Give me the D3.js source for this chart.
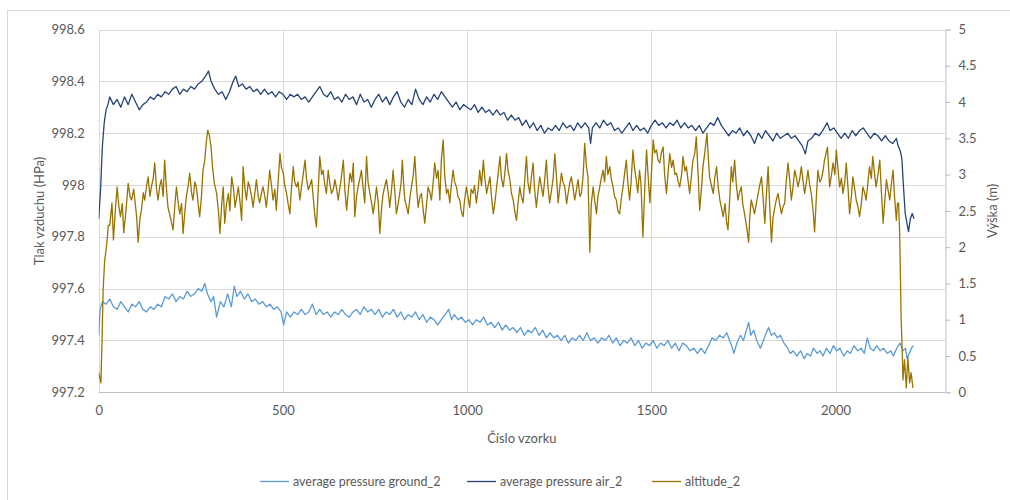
<!DOCTYPE html>
<html>
<head>
<meta charset="utf-8">
<script src="https://cdn.jsdelivr.net/npm/d3@7"></script>
<style>
  html, body { margin: 0; padding: 0; background: #fff; }
  svg text { font-family: Lato, "Open Sans", sans-serif; fill: #595959; }
</style>
</head>
<body>
<svg id="chart" width="1010" height="500"></svg>
<script>
// Axis ticks
const xTicks = [0, 500, 1000, 1500, 2000];
const pressureTicks = [997.2, 997.4, 997.6, 997.8, 998, 998.2, 998.4, 998.6];
const altitudeTicks = [0, 0.5, 1, 1.5, 2, 2.5, 3, 3.5, 4, 4.5, 5];

const seriesNames = ["average pressure ground_2", "average pressure air_2", "altitude_2"];

// [sample number, pressure in hPa]
const pressureGround = [
[0,997.42],[4,997.52],[10,997.55],[20,997.54],[30,997.56],[40,997.53],[50,997.52],[60,997.55],[70,997.53],[80,997.51],
[90,997.54],[100,997.53],[110,997.55],[120,997.52],[130,997.51],[140,997.53],[150,997.52],[160,997.54],[170,997.53],[180,997.57],
[190,997.56],[200,997.58],[210,997.55],[220,997.57],[230,997.56],[240,997.59],[250,997.57],[260,997.58],[270,997.60],[280,997.59],
[288,997.62],[295,997.58],[305,997.55],[312,997.57],[320,997.49],[330,997.55],[340,997.53],[350,997.58],[360,997.53],[368,997.61],
[375,997.57],[385,997.59],[395,997.56],[405,997.58],[415,997.55],[425,997.56],[435,997.54],[445,997.55],[455,997.53],[465,997.54],
[475,997.52],[485,997.53],[495,997.51],[502,997.46],[510,997.51],[520,997.49],[530,997.51],[540,997.50],[550,997.52],[560,997.50],
[570,997.51],[580,997.54],[590,997.50],[600,997.52],[610,997.50],[620,997.51],[630,997.49],[640,997.51],[650,997.50],[660,997.52],
[670,997.50],[680,997.49],[690,997.51],[700,997.52],[710,997.50],[720,997.53],[730,997.51],[740,997.52],[750,997.50],[760,997.52],
[770,997.49],[780,997.51],[790,997.50],[800,997.52],[810,997.49],[820,997.51],[830,997.48],[840,997.50],[850,997.49],[860,997.51],
[870,997.48],[880,997.50],[890,997.47],[900,997.49],[910,997.48],[920,997.46],[930,997.48],[940,997.50],[950,997.52],[958,997.48],
[965,997.50],[975,997.48],[985,997.49],[995,997.47],[1005,997.48],[1015,997.46],[1025,997.48],[1035,997.47],[1045,997.49],[1055,997.46],
[1065,997.47],[1075,997.45],[1085,997.47],[1095,997.44],[1105,997.46],[1115,997.44],[1125,997.45],[1135,997.43],[1145,997.45],[1155,997.42],
[1165,997.44],[1175,997.43],[1185,997.45],[1195,997.42],[1205,997.44],[1215,997.41],[1225,997.43],[1235,997.41],[1245,997.42],[1255,997.40],
[1265,997.42],[1275,997.39],[1285,997.41],[1295,997.40],[1305,997.42],[1315,997.40],[1325,997.43],[1335,997.40],[1345,997.41],[1355,997.39],
[1365,997.41],[1375,997.40],[1385,997.42],[1395,997.39],[1405,997.41],[1415,997.38],[1425,997.40],[1435,997.39],[1445,997.41],[1455,997.38],
[1465,997.40],[1475,997.37],[1485,997.39],[1495,997.38],[1505,997.40],[1515,997.37],[1525,997.39],[1535,997.38],[1545,997.40],[1555,997.37],
[1565,997.39],[1575,997.36],[1585,997.39],[1595,997.38],[1605,997.36],[1615,997.37],[1625,997.35],[1635,997.37],[1645,997.35],[1655,997.38],
[1665,997.41],[1675,997.40],[1685,997.42],[1695,997.41],[1705,997.43],[1712,997.40],[1718,997.38],[1724,997.35],[1732,997.39],[1742,997.42],
[1750,997.40],[1758,997.44],[1764,997.47],[1770,997.42],[1778,997.44],[1786,997.40],[1796,997.37],[1804,997.40],[1812,997.43],[1818,997.45],
[1826,997.42],[1834,997.43],[1842,997.41],[1850,997.42],[1860,997.39],[1870,997.37],[1877,997.35],[1885,997.36],[1895,997.34],[1905,997.36],
[1915,997.33],[1923,997.35],[1932,997.34],[1940,997.37],[1950,997.35],[1958,997.36],[1966,997.34],[1975,997.37],[1985,997.35],[1994,997.38],
[2003,997.36],[2012,997.37],[2022,997.34],[2032,997.36],[2040,997.35],[2050,997.38],[2060,997.36],[2070,997.37],[2078,997.35],[2086,997.41],
[2094,997.37],[2103,997.36],[2112,997.38],[2121,997.36],[2130,997.37],[2140,997.35],[2150,997.36],[2157,997.34],[2166,997.37],[2175,997.39],
[2183,997.36],[2190,997.37],[2194,997.33],[2200,997.35],[2206,997.37],[2211,997.38]
];

// [sample number, pressure in hPa]
const pressureAir = [
[0,997.87],[5,997.98],[10,998.15],[15,998.24],[20,998.29],[25,998.31],[30,998.34],[40,998.31],[50,998.33],[60,998.30],
[70,998.34],[80,998.31],[90,998.35],[100,998.32],[110,998.29],[120,998.31],[130,998.32],[140,998.34],[150,998.33],[160,998.35],
[170,998.34],[180,998.36],[190,998.35],[200,998.37],[210,998.38],[220,998.35],[230,998.37],[240,998.36],[250,998.38],[260,998.37],
[270,998.39],[280,998.40],[290,998.42],[298,998.44],[305,998.40],[315,998.37],[325,998.35],[335,998.36],[345,998.33],[355,998.36],
[365,998.40],[372,998.42],[380,998.38],[390,998.39],[400,998.37],[410,998.38],[420,998.36],[430,998.37],[440,998.35],[450,998.37],
[460,998.35],[470,998.36],[480,998.34],[490,998.36],[500,998.35],[510,998.33],[520,998.35],[530,998.34],[540,998.35],[550,998.33],
[560,998.34],[570,998.32],[580,998.34],[590,998.36],[600,998.38],[610,998.35],[620,998.34],[630,998.36],[640,998.33],[650,998.34],
[660,998.32],[670,998.35],[680,998.33],[690,998.34],[700,998.31],[710,998.35],[720,998.32],[730,998.33],[740,998.30],[750,998.33],
[760,998.35],[770,998.32],[780,998.34],[790,998.31],[800,998.34],[810,998.36],[820,998.32],[830,998.30],[840,998.33],[850,998.31],
[860,998.37],[870,998.33],[880,998.31],[890,998.34],[900,998.32],[910,998.35],[920,998.33],[930,998.36],[940,998.34],[950,998.32],
[960,998.30],[970,998.32],[980,998.29],[990,998.31],[1000,998.30],[1010,998.29],[1020,998.31],[1030,998.28],[1040,998.30],[1050,998.28],
[1060,998.29],[1070,998.27],[1080,998.29],[1090,998.27],[1100,998.28],[1110,998.25],[1120,998.27],[1130,998.25],[1140,998.26],[1150,998.23],
[1160,998.25],[1170,998.22],[1180,998.24],[1190,998.21],[1200,998.23],[1210,998.20],[1220,998.22],[1230,998.21],[1240,998.23],[1250,998.21],
[1260,998.24],[1270,998.22],[1280,998.23],[1290,998.21],[1300,998.24],[1310,998.22],[1320,998.24],[1330,998.22],[1335,998.16],[1340,998.22],
[1350,998.24],[1360,998.22],[1370,998.25],[1380,998.23],[1390,998.24],[1400,998.21],[1410,998.22],[1420,998.20],[1430,998.22],[1440,998.24],
[1450,998.21],[1460,998.23],[1470,998.21],[1480,998.22],[1490,998.20],[1500,998.23],[1510,998.25],[1520,998.23],[1530,998.24],[1540,998.22],
[1550,998.24],[1560,998.23],[1570,998.25],[1580,998.22],[1590,998.24],[1600,998.22],[1610,998.23],[1620,998.21],[1630,998.23],[1640,998.20],
[1650,998.22],[1660,998.24],[1670,998.23],[1680,998.26],[1690,998.23],[1700,998.21],[1710,998.19],[1720,998.21],[1730,998.20],[1740,998.22],
[1750,998.19],[1760,998.21],[1770,998.19],[1780,998.16],[1790,998.20],[1800,998.18],[1810,998.21],[1820,998.19],[1830,998.17],[1840,998.20],
[1850,998.18],[1860,998.19],[1870,998.20],[1880,998.18],[1890,998.19],[1900,998.17],[1910,998.15],[1918,998.12],[1925,998.17],[1935,998.18],
[1945,998.20],[1955,998.19],[1965,998.21],[1977,998.24],[1985,998.21],[1995,998.22],[2005,998.20],[2015,998.18],[2025,998.20],[2035,998.18],
[2045,998.21],[2055,998.19],[2065,998.21],[2075,998.22],[2085,998.20],[2095,998.18],[2105,998.20],[2115,998.19],[2125,998.17],[2135,998.19],
[2145,998.17],[2155,998.16],[2165,998.18],[2170,998.15],[2176,998.13],[2180,998.10],[2184,998.00],[2189,997.89],[2194,997.85],[2198,997.82],
[2203,997.87],[2208,997.89],[2213,997.87]
];

// [sample number, altitude in m]
const altitude = [
[0,0.27],[3,0.20],[6,0.13],[9,0.70],[12,1.41],[16,1.80],[22,2.05],[26,2.30],[30,2.30],[36,2.61],[40,2.10],[45,2.50],[50,2.83],[55,2.55],
[59,2.42],[64,2.60],[68,2.20],[74,2.50],[80,2.88],[85,2.70],[89,2.65],[95,2.80],[103,2.42],[107,2.07],[112,2.40],[116,2.51],[121,2.75],
[125,2.65],[130,2.85],[134,2.97],[139,2.70],[143,2.83],[148,2.95],[152,3.16],[157,2.80],[161,2.65],[166,2.85],[170,2.93],[175,2.70],
[179,3.20],[184,2.80],[188,2.55],[195,2.40],[202,2.24],[207,2.60],[211,2.83],[216,2.60],[220,2.46],[225,2.60],[229,2.19],[234,2.50],
[238,2.70],[243,2.85],[247,3.02],[252,2.75],[256,2.65],[261,2.90],[265,2.83],[270,2.60],[274,2.42],[279,2.70],[283,3.06],[288,3.20],
[292,3.45],[296,3.61],[300,3.55],[305,3.38],[309,3.10],[314,2.88],[320,2.74],[325,2.50],[329,2.19],[334,2.60],[338,2.83],[342,2.33],
[347,2.60],[352,2.74],[356,2.50],[361,2.97],[366,2.80],[370,2.55],[375,2.70],[379,2.83],[384,2.60],[388,2.37],[392,3.11],[397,2.80],
[401,2.65],[406,2.90],[410,2.83],[415,2.70],[419,2.55],[424,2.75],[428,2.93],[433,2.70],[437,2.61],[442,2.75],[446,2.83],[451,2.70],
[455,2.55],[460,2.80],[464,3.06],[469,2.85],[473,2.65],[478,2.80],[482,2.51],[487,2.90],[492,3.29],[496,3.10],[501,3.02],[505,2.85],
[510,2.74],[514,2.60],[519,2.46],[523,2.80],[528,3.11],[532,2.90],[537,2.83],[541,2.90],[546,2.65],[551,2.85],[555,3.00],[560,3.20],
[564,2.95],[569,2.79],[573,2.85],[578,2.93],[582,2.70],[587,2.42],[591,2.28],[596,2.80],[600,3.25],[605,3.00],[609,3.06],[614,2.85],
[618,2.74],[623,3.06],[628,2.85],[632,2.74],[637,2.80],[641,2.93],[646,2.80],[650,2.65],[657,2.90],[664,3.20],[668,2.80],[673,2.51],
[677,2.75],[682,3.02],[687,2.90],[691,3.16],[695,2.42],[700,2.70],[704,2.83],[709,2.95],[713,3.06],[718,2.80],[722,2.61],[727,3.25],
[731,2.90],[736,2.74],[741,2.60],[745,2.46],[750,2.65],[754,2.83],[759,2.60],[763,2.19],[768,2.55],[772,2.74],[777,2.85],[781,2.93],
[786,2.75],[790,2.55],[795,2.80],[799,3.06],[804,2.75],[808,2.46],[813,2.60],[817,2.74],[821,2.90],[824,3.20],[828,2.85],[831,2.65],
[836,2.55],[840,2.46],[845,2.70],[849,2.83],[854,3.00],[858,3.25],[863,2.80],[867,2.55],[872,2.70],[876,2.74],[881,2.50],[885,2.33],
[890,2.60],[894,2.83],[899,2.75],[903,2.65],[908,2.90],[912,3.16],[917,2.95],[921,3.06],[926,2.65],[930,3.20],[935,3.48],[939,3.00],
[944,2.74],[948,2.80],[953,2.61],[957,2.85],[962,3.06],[966,2.90],[971,2.83],[975,2.70],[980,2.65],[984,2.50],[989,2.42],[993,2.65],
[998,2.83],[1002,2.70],[1007,2.55],[1011,2.80],[1016,2.74],[1020,2.85],[1025,2.61],[1030,2.80],[1034,3.06],[1039,2.85],[1044,3.20],
[1048,2.95],[1053,2.74],[1057,2.85],[1062,2.97],[1066,2.70],[1071,2.46],[1075,2.60],[1080,2.83],[1084,3.00],[1089,3.25],[1093,2.95],
[1098,2.83],[1102,3.00],[1107,3.29],[1111,3.05],[1116,2.93],[1120,2.75],[1125,2.65],[1129,2.50],[1134,2.37],[1138,2.60],[1143,2.83],
[1147,2.70],[1152,2.61],[1156,2.90],[1161,3.25],[1165,2.90],[1170,2.74],[1174,2.95],[1179,3.16],[1183,2.80],[1188,2.55],[1192,2.75],
[1197,2.97],[1201,2.85],[1206,2.70],[1210,2.90],[1215,3.20],[1219,2.85],[1224,2.61],[1228,2.75],[1233,2.93],[1238,3.29],[1242,3.00],
[1247,2.61],[1251,2.80],[1256,3.02],[1260,2.90],[1265,2.83],[1270,2.60],[1274,2.74],[1279,2.90],[1283,2.97],[1288,2.80],[1292,2.65],
[1297,2.80],[1301,2.93],[1306,2.70],[1310,2.74],[1315,3.00],[1319,3.43],[1324,3.10],[1328,2.97],[1333,1.93],[1337,2.60],[1342,2.83],
[1346,2.65],[1351,2.46],[1355,2.70],[1360,2.83],[1364,2.95],[1369,3.06],[1373,2.90],[1378,3.25],[1382,3.00],[1387,3.11],[1391,2.95],
[1396,2.83],[1400,2.70],[1405,2.65],[1409,2.50],[1414,2.46],[1418,2.65],[1423,2.83],[1427,3.00],[1432,3.20],[1436,2.90],[1441,2.65],
[1445,2.90],[1450,3.34],[1454,3.10],[1459,2.93],[1463,2.75],[1468,3.06],[1472,2.85],[1477,2.14],[1482,2.80],[1487,3.34],[1491,3.00],
[1496,2.61],[1500,3.00],[1505,3.48],[1509,3.30],[1514,3.34],[1518,3.20],[1523,3.16],[1527,3.30],[1532,3.38],[1536,3.00],[1541,2.74],
[1545,3.00],[1550,3.29],[1555,3.10],[1559,3.20],[1564,3.00],[1568,3.02],[1573,2.90],[1577,2.83],[1582,3.00],[1586,3.25],[1591,3.05],
[1595,3.11],[1600,2.90],[1604,2.74],[1609,3.00],[1613,3.20],[1618,3.30],[1622,3.52],[1627,3.00],[1631,2.51],[1636,2.80],[1640,3.11],
[1645,3.30],[1651,3.57],[1655,3.20],[1658,2.97],[1663,2.85],[1668,2.74],[1672,2.95],[1677,3.11],[1681,2.85],[1686,2.65],[1690,2.55],
[1695,2.42],[1700,2.60],[1704,2.35],[1708,2.24],[1712,2.60],[1717,3.11],[1721,2.90],[1726,3.20],[1730,2.90],[1735,2.65],[1739,2.75],
[1744,2.83],[1748,2.60],[1753,2.46],[1758,2.30],[1764,2.07],[1767,2.40],[1771,2.65],[1776,2.55],[1780,2.46],[1785,2.60],[1790,2.74],
[1794,2.85],[1799,2.97],[1803,2.70],[1808,2.33],[1812,2.70],[1817,3.11],[1821,2.60],[1826,2.07],[1830,2.40],[1835,2.55],[1839,2.65],
[1844,2.74],[1848,2.60],[1853,2.46],[1857,2.55],[1862,2.61],[1866,2.90],[1871,3.16],[1876,2.90],[1880,2.65],[1885,2.85],[1889,3.06],
[1894,2.95],[1898,2.83],[1903,2.95],[1907,3.11],[1912,2.90],[1916,2.74],[1921,2.90],[1925,3.06],[1930,2.85],[1934,2.74],[1939,2.50],
[1943,2.21],[1948,2.70],[1952,3.06],[1957,2.90],[1961,2.93],[1966,3.05],[1970,3.20],[1978,3.38],[1984,2.83],[1989,3.00],[1993,3.16],
[1998,3.00],[2002,3.34],[2007,3.05],[2011,2.83],[2016,2.95],[2020,2.74],[2025,2.90],[2029,3.16],[2034,2.80],[2038,2.46],[2043,2.70],
[2047,2.97],[2052,2.80],[2056,2.65],[2061,2.55],[2065,2.42],[2070,2.60],[2074,2.83],[2079,2.75],[2083,2.65],[2088,2.90],[2092,3.11],
[2097,2.95],[2101,3.25],[2106,3.00],[2110,2.83],[2115,3.00],[2120,3.20],[2124,2.80],[2129,2.33],[2133,2.60],[2138,2.93],[2142,2.80],
[2147,2.65],[2151,2.85],[2156,3.06],[2160,2.70],[2165,2.37],[2168,2.60],[2171,2.61],[2174,2.19],[2178,1.00],[2180,0.72],[2183,0.17],
[2187,0.45],[2192,0.06],[2196,0.48],[2201,0.13],[2205,0.27],[2210,0.06]
];

const colors = { ground: "#5B9BD5", air: "#264478", altitude: "#997300" };

const svg = d3.select("#chart");
const plot = { left: 98.7, right: 945, top: 29.5, bottom: 392.3 };

const x = d3.scaleLinear().domain([0, 2297]).range([plot.left, plot.right]);
const yP = d3.scaleLinear().domain([997.2, 998.6]).range([plot.bottom, plot.top]);
const yA = d3.scaleLinear().domain([0, 5]).range([plot.bottom, plot.top]);

// chart area frame
svg.append("rect")
  .attr("x", 7.5).attr("y", 10.5).attr("width", 1020).attr("height", 520)
  .attr("fill", "#fff").attr("stroke", "#d9d9d9").attr("stroke-width", 1);

// horizontal gridlines at pressure ticks
svg.append("g")
  .selectAll("line").data(pressureTicks).join("line")
  .attr("x1", plot.left).attr("x2", plot.right)
  .attr("y1", d => Math.round(yP(d)) + 0.5).attr("y2", d => Math.round(yP(d)) + 0.5)
  .attr("stroke", "#d9d9d9").attr("stroke-width", 1);

// vertical gridlines at sample ticks
svg.append("g")
  .selectAll("line").data(xTicks).join("line")
  .attr("x1", d => Math.round(x(d)) + 0.5).attr("x2", d => Math.round(x(d)) + 0.5)
  .attr("y1", plot.top).attr("y2", plot.bottom)
  .attr("stroke", "#d9d9d9").attr("stroke-width", 1);

// bottom axis line
svg.append("line")
  .attr("x1", plot.left).attr("x2", plot.right)
  .attr("y1", Math.round(plot.bottom) + 0.5).attr("y2", Math.round(plot.bottom) + 0.5)
  .attr("stroke", "#bfbfbf");

// right axis (altitude)
const rightAxis = svg.append("g")
  .attr("transform", `translate(${Math.round(plot.right) + 0.5},0)`)
  .call(d3.axisRight(yA).tickValues(altitudeTicks).tickSize(5).tickPadding(8).tickFormat(d3.format("")));
rightAxis.select(".domain").attr("stroke", "#bfbfbf");
rightAxis.selectAll(".tick line").attr("stroke", "#bfbfbf");
rightAxis.selectAll(".tick text").attr("font-size", 13).attr("fill", "#595959")
  .style("font-family", "Lato, 'Open Sans', sans-serif");

// left axis labels (pressure)
const leftAxis = svg.append("g")
  .attr("transform", `translate(${plot.left},0)`)
  .call(d3.axisLeft(yP).tickValues(pressureTicks).tickSize(0).tickPadding(14).tickFormat(d3.format("")));
leftAxis.select(".domain").remove();
leftAxis.selectAll(".tick text").attr("font-size", 13).attr("fill", "#595959")
  .style("font-family", "Lato, 'Open Sans', sans-serif");

// bottom axis labels (sample number)
const bottomAxis = svg.append("g")
  .attr("transform", `translate(0,${plot.bottom})`)
  .call(d3.axisBottom(x).tickValues(xTicks).tickSize(0).tickPadding(13).tickFormat(d3.format("d")));
bottomAxis.select(".domain").remove();
bottomAxis.selectAll(".tick text").attr("font-size", 13).attr("fill", "#595959")
  .style("font-family", "Lato, 'Open Sans', sans-serif");

// data lines
const clip = svg.append("clipPath").attr("id", "plot-clip")
  .append("rect").attr("x", plot.left).attr("y", plot.top - 2)
  .attr("width", plot.right - plot.left).attr("height", plot.bottom - plot.top + 4);

const linesG = svg.append("g").attr("clip-path", "url(#plot-clip)");
const lineP = d3.line().x(d => x(d[0])).y(d => yP(d[1]));
const lineA = d3.line().x(d => x(d[0])).y(d => yA(d[1]));

linesG.append("path").datum(pressureGround).attr("d", lineP)
  .attr("fill", "none").attr("stroke", colors.ground).attr("stroke-width", 1.3).attr("stroke-linejoin", "round");
linesG.append("path").datum(pressureAir).attr("d", lineP)
  .attr("fill", "none").attr("stroke", colors.air).attr("stroke-width", 1.3).attr("stroke-linejoin", "round");
linesG.append("path").datum(altitude).attr("d", lineA)
  .attr("fill", "none").attr("stroke", colors.altitude).attr("stroke-width", 1.3).attr("stroke-linejoin", "round");

// axis titles
svg.append("text")
  .attr("transform", `translate(44,${(plot.top + plot.bottom) / 2}) rotate(-90)`)
  .attr("text-anchor", "middle").attr("font-size", 13)
  .text("Tlak vzduchu (HPa)");
svg.append("text")
  .attr("transform", `translate(997,${(plot.top + plot.bottom) / 2}) rotate(-90)`)
  .attr("text-anchor", "middle").attr("font-size", 13)
  .text("Výška (m)");
svg.append("text")
  .attr("x", (plot.left + plot.right) / 2).attr("y", 443)
  .attr("text-anchor", "middle").attr("font-size", 13)
  .text("Číslo vzorku");

// legend
const legendItems = [
  { name: seriesNames[0], color: colors.ground, x: 260 },
  { name: seriesNames[1], color: colors.air, x: 467 },
  { name: seriesNames[2], color: colors.altitude, x: 652 }
];
const legend = svg.append("g");
legendItems.forEach(item => {
  legend.append("line")
    .attr("x1", item.x).attr("x2", item.x + 29)
    .attr("y1", 481.5).attr("y2", 481.5)
    .attr("stroke", item.color).attr("stroke-width", 1.3);
  legend.append("text")
    .attr("x", item.x + 33).attr("y", 486)
    .attr("font-size", 12.5)
    .text(item.name);
});
</script>
</body>
</html>
